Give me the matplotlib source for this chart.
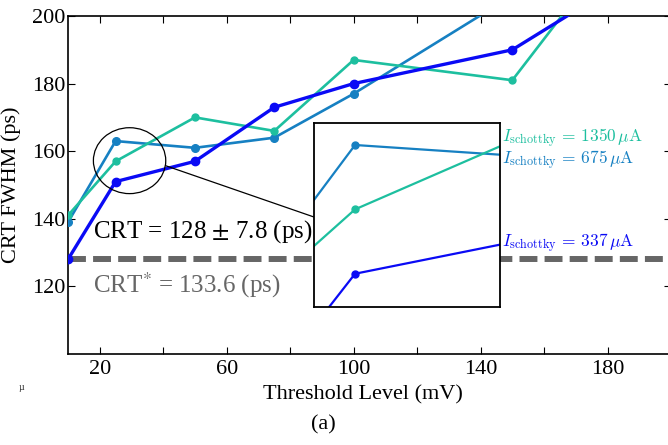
import matplotlib
matplotlib.use('Agg')
import matplotlib.pyplot as plt
from matplotlib.patches import Ellipse, ConnectionPatch

plt.rcParams['font.family'] = ['Liberation Serif', 'DejaVu Serif']
plt.rcParams['mathtext.fontset'] = 'stix'

# threshold levels (mV)
thr = [10, 25, 50, 75, 100, 150, 200]
# CRT FWHM (ps) per schottky current
crt_337 = [128, 151, 157, 173, 180, 190, 219]
crt_675 = [139, 163, 161, 164, 177, 206, 235]
crt_1350 = [141, 157, 170, 166, 187, 181, 242]

crt_meas = 128
crt_star = 133.6

c337 = '#0a0af5'
c675 = '#1680c2'
c1350 = '#1dbf9f'

xticks = [20, 40, 60, 80, 100, 120, 140, 160, 180]
xticklabels = ['20', '', '60', '', '100', '', '140', '', '180']
yticks = [120, 140, 160, 180, 200]

fig = plt.figure(figsize=(6.68, 4.45), dpi=100)
ax = fig.add_axes([68/668, 91/445, 603/668, 338/445])

ax.axhline(crt_meas, color='#666666', lw=4.3, dashes=(3, 1.2), zorder=1)
ax.plot(thr, crt_675, '-o', color=c675, lw=1.9, ms=5.5, zorder=3)
ax.plot(thr, crt_1350, '-o', color=c1350, lw=1.9, ms=5, zorder=3)
ax.plot(thr, crt_337, '-o', color=c337, lw=2.4, ms=6, zorder=4)

ax.set_xlim(10, 200)
ax.set_ylim(100, 200)
ax.set_xticks(xticks)
ax.set_xticklabels(xticklabels)
ax.set_yticks(yticks)
ax.tick_params(direction='in', length=5, width=0.8, top=True, right=True,
               labelsize=16, pad=4)
ax.tick_params(axis='y', pad=2)
for s in ax.spines.values():
    s.set_linewidth(1.2)

ax.set_xlabel('Threshold Level (mV)', fontsize=16)
ax.set_ylabel('CRT FWHM (ps)', fontsize=16)
ax.xaxis.set_label_coords((363 - 68) / 603, -0.092)
ax.yaxis.set_label_coords(-0.078, 0.5)

ax.text(17.9, 136.2, r'CRT = 128 $\pm$ 7.8 (ps)', fontsize=18, va='center', color='black', zorder=5)
ax.text(17.9, 120.3, r'CRT$^{*}$ = 133.6 (ps)', fontsize=18, va='center', color='#666666', zorder=5)

ell = Ellipse((29.4, 157.2), width=22.8, height=19.5, fill=False, edgecolor='black', lw=0.9, zorder=6)
ax.add_patch(ell)

lab = r'$I_{\mathrm{schottky}}\,=\,%s\,\mu\mathrm{A}$'
ax.text(146.9, 164.0, lab % '1350', color=c1350, fontsize=12.5, va='center', math_fontfamily='cm')
ax.text(146.9, 157.4, lab % '675', color=c675, fontsize=12.5, va='center', math_fontfamily='cm')
ax.text(146.9, 132.9, lab % '337', color=c337, fontsize=12.5, va='center', math_fontfamily='cm')

# inset zoom
axin = fig.add_axes([314/668, (445 - 307)/445, 186/668, 184/445], zorder=5)
axin.plot(thr, crt_675, '-o', color=c675, lw=1.6, ms=5)
axin.plot(thr, crt_1350, '-o', color=c1350, lw=1.6, ms=5)
axin.plot(thr, crt_337, '-o', color=c337, lw=1.6, ms=5)
axin.set_xlim(21.8, 36.3)
axin.set_ylim(147.9, 165.05)
axin.set_xticks([])
axin.set_yticks([])
for s in axin.spines.values():
    s.set_linewidth(1.3)

con = ConnectionPatch(xyA=(40.8, 155.7), coordsA=ax.transData,
                      xyB=(0, 0.489), coordsB=axin.transAxes,
                      color='black', lw=0.9)
fig.add_artist(con)

fig.text(323/668, 1 - 425/445, '(a)', fontsize=16, ha='center', va='center')
fig.text(22/668, 1 - 388/445, 'µ', fontsize=7, ha='center', va='center', color='#333333')

fig.savefig('out.png', dpi=100)
